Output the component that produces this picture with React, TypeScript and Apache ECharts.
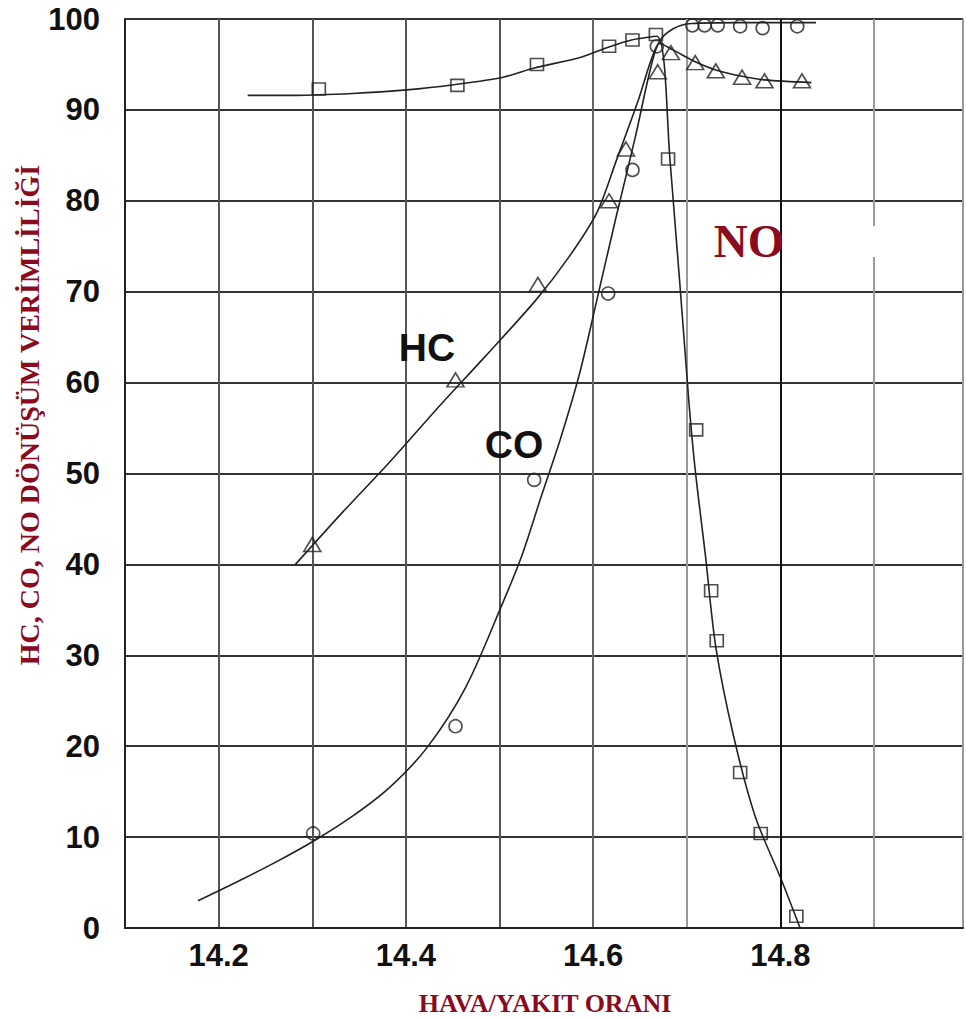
import React, { useEffect, useRef } from "react";
import * as echarts from "echarts";

// Measured points (air/fuel ratio, conversion efficiency %)
const noPoints: [number, number][] = [
  [14.307, 92.3], [14.455, 92.7], [14.54, 95.0], [14.617, 97.0], [14.642, 97.7],
  [14.667, 98.3], [14.68, 84.6], [14.71, 54.8], [14.726, 37.1], [14.732, 31.6],
  [14.757, 17.1], [14.779, 10.4], [14.817, 1.3],
];
const hcPoints: [number, number][] = [
  [14.3, 42.2], [14.453, 60.3], [14.541, 70.8], [14.617, 80.0], [14.635, 85.7],
  [14.669, 94.2], [14.683, 96.3], [14.709, 95.2], [14.731, 94.3], [14.759, 93.6],
  [14.783, 93.2], [14.823, 93.2],
];
const coPoints: [number, number][] = [
  [14.301, 10.4], [14.453, 22.2], [14.537, 49.3], [14.616, 69.8], [14.642, 83.4],
  [14.668, 97.0], [14.706, 99.3], [14.719, 99.3], [14.733, 99.3], [14.757, 99.2],
  [14.781, 99.0], [14.818, 99.2],
];

// Fitted trend curves
const noCurve: [number, number][] = [
  [14.231, 91.6], [14.282, 91.6], [14.343, 91.8], [14.401, 92.2], [14.453, 92.8],
  [14.504, 93.6], [14.537, 94.6], [14.587, 95.8], [14.616, 96.9], [14.641, 97.7],
  [14.668, 98.1], [14.682, 84.6], [14.702, 58.2], [14.709, 50.4], [14.72, 40.9],
  [14.731, 30.9], [14.75, 21.1], [14.773, 12.3], [14.801, 5.3], [14.821, 0],
];
const hcCurve: [number, number][] = [
  [14.282, 40.0], [14.332, 45.7], [14.383, 51.3], [14.433, 57.1], [14.484, 62.8],
  [14.539, 69.1], [14.574, 73.8], [14.604, 78.7], [14.625, 84.5], [14.648, 91.0],
  [14.662, 95.5], [14.671, 97.3], [14.685, 96.6], [14.709, 95.3], [14.731, 94.4],
  [14.759, 93.7], [14.783, 93.3], [14.833, 93.0],
];
const coCurve: [number, number][] = [
  [14.178, 3.0], [14.222, 5.2], [14.262, 7.3], [14.302, 9.6], [14.343, 12.3],
  [14.383, 15.5], [14.423, 19.9], [14.464, 26.5], [14.504, 35.9], [14.524, 41.0],
  [14.544, 47.3], [14.565, 53.8], [14.585, 60.8], [14.604, 69.1], [14.624, 78.0],
  [14.645, 87.0], [14.66, 94.0], [14.67, 97.4], [14.685, 98.9], [14.705, 99.5],
  [14.756, 99.6], [14.838, 99.6],
];

const xTickLabels = ["14.2", "14.4", "14.6", "14.8"];

const xTitle = "HAVA/YAKIT ORANI";
const yTitle = "HC, CO, NO DÖNÜŞÜM VERİMLİLİĞİ";

const INK = "#222";
const TITLE_RED = "#8a0b1e";

export default function App() {
  const ref = useRef<HTMLDivElement>(null);

  useEffect(() => {
    if (!ref.current) return;
    const chart = echarts.init(ref.current, null, { renderer: "svg" });

    const curveSeries = (data: [number, number][], extra: any = {}) => ({
      type: "line",
      data,
      smooth: 0.3,
      showSymbol: false,
      symbol: "none",
      lineStyle: { color: INK, width: 1.6 },
      silent: true,
      z: 3,
      ...extra,
    });
    const pointSeries = (data: [number, number][], symbol: string, size: any) => ({
      type: "scatter",
      data,
      symbol,
      symbolSize: size,
      itemStyle: { color: "rgba(0,0,0,0)", borderColor: INK, borderWidth: 1.6 },
      silent: true,
      z: 4,
    });

    chart.setOption({
      animation: false,
      backgroundColor: "#fff",
      grid: { left: 125, right: 0, top: 19, bottom: 92 },
      xAxis: {
        type: "value",
        min: 14.1,
        max: 14.995,
        interval: 0.1,
        axisLine: { show: true, lineStyle: { color: INK, width: 2 } },
        axisTick: { show: false },
        axisLabel: {
          margin: 12,
          color: "#111",
          fontFamily: "Liberation Sans, Arial, sans-serif",
          fontWeight: "bold",
          fontSize: 31,
          formatter: (v: number) => {
            const s = v.toFixed(1);
            return xTickLabels.includes(s) && Math.abs(v - Number(s)) < 1e-6 ? s : "";
          },
        },
        splitLine: {
          show: true,
          lineStyle: {
            width: 2,
            color: ["#333", "#555", "#555", "#555", "#555", "#666", "#999", "#222", "#999", "#999"],
          },
        },
      },
      yAxis: {
        type: "value",
        min: 0,
        max: 100,
        interval: 10,
        axisLine: { show: true, lineStyle: { color: INK, width: 2 } },
        axisTick: { show: false },
        axisLabel: {
          margin: 25,
          color: "#111",
          fontFamily: "Liberation Sans, Arial, sans-serif",
          fontWeight: "bold",
          fontSize: 31,
        },
        splitLine: { show: true, lineStyle: { color: "#333", width: 2 } },
      },
      series: [
        curveSeries(noCurve, {
          markLine: {
            silent: true,
            symbol: "none",
            label: { show: false },
            lineStyle: { color: "#111", width: 2, type: "solid" },
            data: [{ xAxis: 14.8 }],
          },
        }),
        curveSeries(hcCurve),
        curveSeries(coCurve),
        pointSeries(noPoints, "rect", [13, 12]),
        pointSeries(hcPoints, "triangle", [17, 14]),
        pointSeries(coPoints, "circle", 13),
      ],
      graphic: [
        {
          type: "rect",
          z: 1,
          shape: { x: 691, y: 226, width: 189, height: 31 },
          style: { fill: "#fff" },
          silent: true,
        },
        {
          type: "text",
          z: 10,
          x: 749,
          y: 241,
          style: {
            text: "NO",
            fill: TITLE_RED,
            font: "bold 47px 'Liberation Serif', 'Times New Roman', serif",
            align: "center",
            verticalAlign: "middle",
          },
        },
        {
          type: "text",
          z: 10,
          x: 427,
          y: 347,
          style: {
            text: "HC",
            fill: "#111",
            font: "bold 39px 'Liberation Sans', Arial, sans-serif",
            align: "center",
            verticalAlign: "middle",
          },
        },
        {
          type: "text",
          z: 10,
          x: 514,
          y: 444,
          style: {
            text: "CO",
            fill: "#111",
            font: "bold 39px 'Liberation Sans', Arial, sans-serif",
            align: "center",
            verticalAlign: "middle",
          },
        },
        {
          type: "text",
          z: 10,
          x: 29,
          y: 415,
          rotation: Math.PI / 2,
          style: {
            text: yTitle,
            fill: TITLE_RED,
            font: "bold 28px 'Liberation Serif', 'Times New Roman', serif",
            align: "center",
            verticalAlign: "middle",
          },
        },
        {
          type: "text",
          z: 10,
          x: 545,
          y: 1003,
          style: {
            text: xTitle,
            fill: TITLE_RED,
            font: "bold 26px 'Liberation Serif', 'Times New Roman', serif",
            align: "center",
            verticalAlign: "middle",
          },
        },
      ],
    });

    return () => chart.dispose();
  }, []);

  return (
    <div
      ref={ref}
      style={{ position: "absolute", left: 0, top: 0, width: 966, height: 1020 }}
    />
  );
}
